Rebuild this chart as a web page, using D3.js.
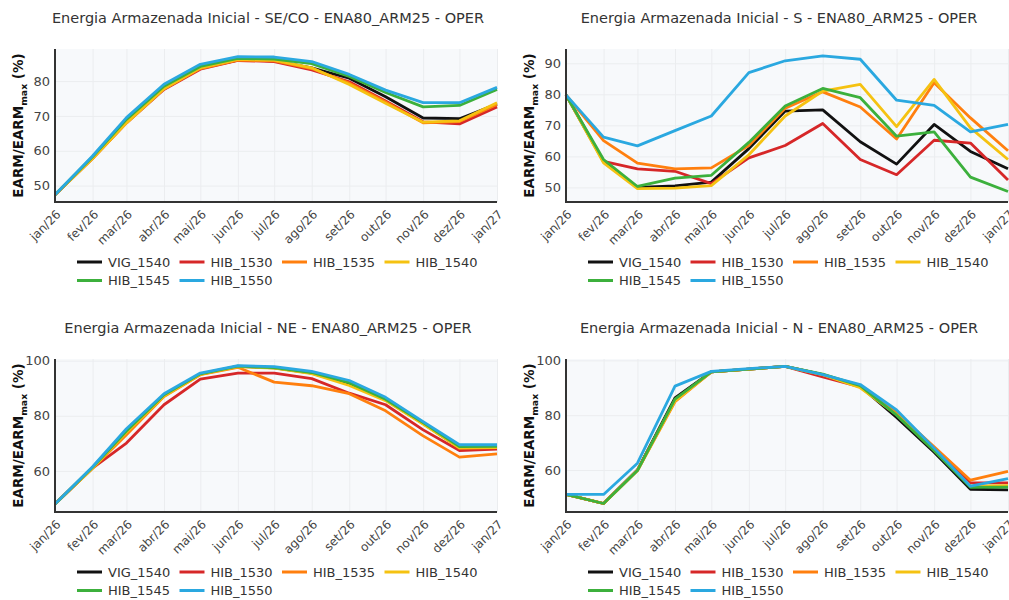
<!DOCTYPE html>
<html>
<head>
<meta charset="utf-8">
<script src="https://cdn.jsdelivr.net/npm/d3@7"></script>
<style>
  body { margin: 0; background: #fff; overflow: hidden; }
  text { font-family: "DejaVu Sans", Verdana, sans-serif; }
</style>
</head>
<body>
<svg id="chart" width="1009" height="600"></svg>
<script>
// months of the horizon and their labels
const months = ['2026-01-01','2026-02-01','2026-03-01','2026-04-01','2026-05-01','2026-06-01',
  '2026-07-01','2026-08-01','2026-09-01','2026-10-01','2026-11-01','2026-12-01','2027-01-01'];
const monthLabels = ['jan/26','fev/26','mar/26','abr/26','mai/26','jun/26','jul/26',
  'ago/26','set/26','out/26','nov/26','dez/26','jan/27'];

const seriesNames = ['VIG_1540','HIB_1530','HIB_1535','HIB_1540','HIB_1545','HIB_1550'];

// SE/CO
const valuesSECO = [
  [47.4,58.0,68.5,78.0,83.7,86.0,85.8,83.8,80.8,75.5,69.4,69.2,73.4],
  [47.4,57.8,68.0,77.6,83.4,85.9,85.6,83.2,79.8,74.3,68.3,67.7,72.6],
  [47.4,57.8,68.0,77.8,83.6,86.0,85.8,83.6,79.4,74.0,68.0,68.4,73.3],
  [47.4,57.8,68.0,77.8,83.8,86.2,86.0,83.8,79.0,73.6,68.2,68.6,73.8],
  [47.4,58.3,69.0,78.5,84.2,86.5,86.3,85.0,81.3,76.7,72.6,73.0,77.6],
  [47.4,58.5,69.5,79.1,84.8,87.0,86.9,85.6,81.9,77.4,73.8,73.8,78.2]
];
// S
const valuesS = [
  [79.8,58.3,50.0,50.5,51.7,62.5,74.6,75.0,64.7,57.5,70.3,61.6,56.0],
  [79.8,58.4,56.0,55.2,51.2,59.5,63.5,70.6,59.0,54.1,65.2,64.3,52.4],
  [79.8,65.1,57.8,56.0,56.3,63.5,75.5,80.8,75.9,65.6,83.7,72.4,61.8],
  [79.8,57.9,49.6,49.8,50.6,60.5,73.0,81.0,83.2,69.6,84.8,69.2,59.0],
  [79.8,59.0,50.3,53.0,53.9,64.5,76.2,81.9,78.9,66.5,67.9,53.3,48.7],
  [79.8,66.2,63.4,68.3,73.0,87.0,90.8,92.4,91.3,78.1,76.4,67.9,70.3]
];
// NE
const valuesNE = [
  [48.0,61.2,74.5,87.5,95.1,97.9,97.4,95.5,91.5,85.8,77.2,68.5,68.8],
  [48.0,61.0,70.1,84.0,93.3,95.5,95.5,93.5,88.2,84.0,74.9,67.4,67.9],
  [48.0,61.0,73.1,87.0,94.9,97.6,92.2,90.9,88.0,81.8,72.7,65.0,66.2],
  [48.0,61.0,74.0,87.2,95.0,97.8,97.3,95.3,91.0,85.5,77.0,68.3,68.5],
  [48.0,61.3,74.5,87.6,95.2,98.0,97.5,95.7,92.0,86.0,77.5,68.8,68.9],
  [48.0,61.5,75.3,88.0,95.5,98.2,97.8,96.1,92.8,86.7,77.9,69.5,69.5]
];
// N
const valuesN = [
  [51.1,47.8,60.0,86.3,95.8,96.8,97.8,94.8,90.5,79.2,66.5,53.0,52.8],
  [51.1,47.8,60.0,85.5,95.8,96.8,97.8,94.0,90.3,80.5,67.5,55.3,55.3],
  [51.1,47.8,59.8,84.9,95.8,96.8,97.8,94.8,90.6,81.0,68.5,56.3,59.5],
  [51.1,47.8,59.8,85.2,95.8,96.8,97.8,94.8,90.0,80.2,67.2,54.1,54.3],
  [51.1,47.8,59.8,85.9,95.8,96.8,97.8,95.0,90.8,80.0,67.0,53.7,53.8],
  [51.1,51.1,62.5,90.6,96.0,97.0,97.8,94.8,91.2,81.9,68.0,54.1,56.9]
];

const ticksSECO = [50,60,70,80];
const ticksS = [50,60,70,80,90];
const ticksNE = [60,80,100];
const ticksN = [60,80,100];

const colors = ['#111111','#d62728','#ff7f0e','#f5c211','#3cb03c','#2aa8e0'];

const panels = [
  {title: 'Energia Armazenada Inicial - SE/CO - ENA80_ARM25 - OPER', values: valuesSECO, ticks: ticksSECO, domain: [45.3, 89.2], left: 55, top: 49},
  {title: 'Energia Armazenada Inicial - S - ENA80_ARM25 - OPER', values: valuesS, ticks: ticksS, domain: [45.3, 94.6], left: 566, top: 49},
  {title: 'Energia Armazenada Inicial - NE - ENA80_ARM25 - OPER', values: valuesNE, ticks: ticksNE, domain: [45.1, 100.6], left: 55, top: 359},
  {title: 'Energia Armazenada Inicial - N - ENA80_ARM25 - OPER', values: valuesN, ticks: ticksN, domain: [44.7, 100.5], left: 566, top: 359}
];

const width = 442, height = 153;
const dates = months.map(d3.isoParse);
const svg = d3.select('#chart');

panels.forEach(p => {
  const g = svg.append('g').attr('transform', 'translate(' + p.left + ',' + p.top + ')');

  const x = d3.scaleUtc().domain(d3.extent(dates)).range([0, width]);
  const y = d3.scaleLinear().domain(p.domain).range([height, 0]);

  // background
  g.append('rect').attr('width', width).attr('height', height).attr('fill', '#f7f9fb');

  // grid
  g.append('g')
    .attr('transform', 'translate(0,' + height + ')')
    .call(d3.axisBottom(x).tickValues(dates).tickSize(-height).tickFormat(''))
    .call(a => a.select('.domain').remove())
    .selectAll('line').attr('stroke', '#ebedef');
  g.append('g')
    .call(d3.axisLeft(y).tickValues(p.ticks).tickSize(-width).tickFormat(''))
    .call(a => a.select('.domain').remove())
    .selectAll('line').attr('stroke', '#ebedef');

  // lines
  const line = d3.line().x((d, i) => x(dates[i])).y(d => y(d));
  p.values.forEach((vals, k) => {
    g.append('path')
      .datum(vals)
      .attr('d', line)
      .attr('fill', 'none')
      .attr('stroke', colors[k])
      .attr('stroke-width', 2.8)
      .attr('stroke-linejoin', 'round');
  });

  // x axis
  const xa = g.append('g')
    .attr('transform', 'translate(0,' + height + ')')
    .call(d3.axisBottom(x).tickValues(dates).tickSize(0).tickFormat((d, i) => monthLabels[i]));
  xa.select('.domain').remove();
  xa.selectAll('text')
    .attr('fill', '#444')
    .style('font-size', '12px')
    .attr('text-anchor', 'end')
    .attr('x', 0).attr('y', 0).attr('dy', 0)
    .attr('transform', 'translate(6,13) rotate(-45)');

  // y axis
  const ya = g.append('g')
    .call(d3.axisLeft(y).tickValues(p.ticks).tickSize(0).tickPadding(5));
  ya.select('.domain').remove();
  ya.selectAll('text').attr('fill', '#444').style('font-size', '13px');

  // axis lines
  g.append('line').attr('x1', 0).attr('x2', width).attr('y1', height).attr('y2', height)
    .attr('stroke', '#333').attr('stroke-width', 2);
  g.append('line').attr('x1', 0).attr('x2', 0).attr('y1', 0).attr('y2', height + 1)
    .attr('stroke', '#333').attr('stroke-width', 2);

  // y label
  const yl = g.append('text')
    .attr('transform', 'translate(-32,' + (height / 2) + ') rotate(-90)')
    .attr('text-anchor', 'middle')
    .attr('fill', '#111')
    .style('font-size', '13.5px')
    .style('font-weight', 'bold');
  yl.append('tspan').text('EARM/EARM');
  yl.append('tspan').text('max').style('font-size', '9.3px').attr('dy', 4);
  yl.append('tspan').text(' (%)').attr('dy', -4);

  // title
  g.append('text')
    .attr('x', width / 2 - 8)
    .attr('y', -26)
    .attr('text-anchor', 'middle')
    .attr('fill', '#333')
    .style('font-size', '14.5px')
    .text(p.title);

  // legend
  const leg = g.append('g').attr('transform', 'translate(22,' + (height + 60) + ')');
  seriesNames.forEach((name, k) => {
    const item = leg.append('g')
      .attr('transform', 'translate(' + (k % 4) * 102.5 + ',' + Math.floor(k / 4) * 18.5 + ')');
    item.append('line').attr('x1', 0).attr('x2', 25)
      .attr('stroke', colors[k]).attr('stroke-width', 3);
    item.append('text').attr('x', 31).attr('dy', '0.35em')
      .attr('fill', '#333').style('font-size', '13px').text(name);
  });
});
</script>
</body>
</html>
